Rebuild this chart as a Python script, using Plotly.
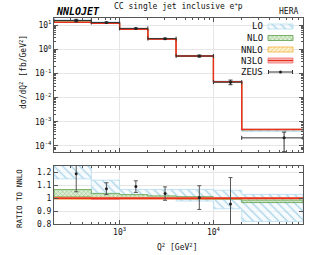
import math
import plotly.graph_objects as go

# ---------------- data ----------------
q2_edges = [200, 500, 1000, 2000, 4000, 10000, 20000, 90000]
zeus_q2 = [345, 724, 1490, 3050, 7070, 15200, 56600]

# NNLO cross section dsigma/dQ2 [fb/GeV2]
nnlo_xs = [12.9, 11.8, 6.65, 2.64, 0.52, 0.0455, 4.8e-4]

# ratios to NNLO (scale bands)
lo_low = [1.15, 1.04, 1.02, 1.005, 0.978, 0.918, 0.82]
lo_high = [1.27, 1.14, 1.067, 1.066, 1.068, 1.062, 1.03]
nlo_low = [1.01, 1.005, 1.005, 1.0, 0.995, 0.99, 0.966]
nlo_high = [1.067, 1.036, 1.028, 1.018, 1.012, 1.004, 0.986]
nnlo_low = [0.993, 0.99, 0.993, 0.995, 0.995, 0.995, 0.996]
nnlo_high = [1.008, 1.006, 1.005, 1.004, 1.004, 1.003, 1.003]
n3lo_central = [1.0, 0.997, 0.998, 0.999, 1.0, 1.0, 1.0]
n3lo_low = [0.996, 0.99, 0.993, 0.995, 0.996, 0.996, 0.996]
n3lo_high = [1.004, 1.002, 1.002, 1.003, 1.003, 1.003, 1.004]

zeus_ratio = [1.19, 1.074, 1.09, 1.036, 1.005, 0.955, 0.45]
zeus_ratio_err = [0.14, 0.046, 0.045, 0.052, 0.092, 0.205, 0.33]

y_tick_vals = [1e-4, 1e-3, 1e-2, 1e-1, 1e0, 1e1]
y_tick_text = ["10<sup>-4</sup>", "10<sup>-3</sup>", "10<sup>-2</sup>",
               "10<sup>-1</sup>", "10<sup>0</sup>", "10<sup>1</sup>"]
x_tick_vals = [1000, 10000]
x_tick_text = ["10<sup>3</sup>", "10<sup>4</sup>"]
r_tick_vals = [0.8, 0.9, 1.0, 1.1, 1.2]
r_tick_text = ["0.8", "0.9", "1", "1.1", "1.2"]

legend_labels = ["LO", "NLO", "NNLO", "N3LO", "ZEUS"]

# ---------------- styles ----------------
FONT = "DejaVu Sans Mono"
styles = {
    "LO": dict(line="#b4dcee", fg="#a8d4e8", bg="rgba(242,249,253,0.6)", shape="\\", size=6),
    "NLO": dict(line="#5c9e48", fg="#6aa856", bg="rgba(214,235,204,0.8)", shape="x", size=3),
    "NNLO": dict(line="#f0b13a", fg="#f2bb4a", bg="rgba(253,240,200,0.8)", shape="/", size=3),
    "N3LO": dict(line="#f07070", fg="#f08080", bg="rgba(250,195,195,0.9)", shape="-", size=2),
}


def step_band(edges, low, high):
    xs, ys = [], []
    for i in range(len(low)):
        xs += [edges[i], edges[i + 1]]
        ys += [high[i], high[i]]
    for i in reversed(range(len(low))):
        xs += [edges[i + 1], edges[i]]
        ys += [low[i], low[i]]
    xs.append(xs[0])
    ys.append(ys[0])
    return xs, ys


def step_line(edges, vals):
    xs, ys = [], []
    for i in range(len(vals)):
        xs += [edges[i], edges[i + 1]]
        ys += [vals[i], vals[i]]
    return xs, ys


def pattern(st):
    return dict(shape=st["shape"], fgcolor=st["fg"], bgcolor=st["bg"],
                size=st["size"], solidity=0.22, fillmode="replace")


fig = go.Figure()

bands = [
    ("LO", lo_low, lo_high),
    ("NLO", nlo_low, nlo_high),
    ("NNLO", nnlo_low, nnlo_high),
    ("N3LO", n3lo_low, n3lo_high),
]

for name, lo, hi in bands:
    st = styles[name]
    xs, ys = step_band(q2_edges, [l * v for l, v in zip(lo, nnlo_xs)],
                       [h * v for h, v in zip(hi, nnlo_xs)])
    fig.add_trace(go.Scatter(x=xs, y=ys, mode="lines", fill="toself",
                             line=dict(color=st["line"], width=0.8), fillpattern=pattern(st),
                             xaxis="x", yaxis="y", showlegend=False, hoverinfo="skip"))
    xs, ys = step_band(q2_edges, lo, hi)
    fig.add_trace(go.Scatter(x=xs, y=ys, mode="lines", fill="toself",
                             line=dict(color=st["line"], width=0.8), fillpattern=pattern(st),
                             xaxis="x2", yaxis="y2", showlegend=False, hoverinfo="skip"))

# N3LO central lines
xs, ys = step_line(q2_edges, [c * v for c, v in zip(n3lo_central, nnlo_xs)])
fig.add_trace(go.Scatter(x=xs, y=ys, mode="lines", line=dict(color="#e8321e", width=1.4),
                         xaxis="x", yaxis="y", showlegend=False, hoverinfo="skip"))
xs, ys = step_line(q2_edges, n3lo_central)
fig.add_trace(go.Scatter(x=xs, y=ys, mode="lines", line=dict(color="#e8321e", width=1.4),
                         xaxis="x2", yaxis="y2", showlegend=False, hoverinfo="skip"))

# ZEUS data
zeus_val = [r * v for r, v in zip(zeus_ratio, nnlo_xs)]
zeus_err = [e * v for e, v in zip(zeus_ratio_err, nnlo_xs)]
zeus_err_minus = [min(e, 0.999 * y) for e, y in zip(zeus_err, zeus_val)]
xm = [x - q2_edges[i] for i, x in enumerate(zeus_q2)]
xp = [q2_edges[i + 1] - x for i, x in enumerate(zeus_q2)]
fig.add_trace(go.Scatter(x=zeus_q2, y=zeus_val, mode="markers",
                         marker=dict(color="#222", size=3),
                         error_y=dict(type="data", array=zeus_err, arrayminus=zeus_err_minus,
                                      color="#333", thickness=1, width=2),
                         error_x=dict(type="data", array=xp, arrayminus=xm,
                                      color="#333", thickness=1, width=2),
                         xaxis="x", yaxis="y", showlegend=False, hoverinfo="skip"))
fig.add_trace(go.Scatter(x=zeus_q2, y=zeus_ratio, mode="markers",
                         marker=dict(color="#222", size=3),
                         error_y=dict(type="data", array=zeus_ratio_err, color="#555",
                                      thickness=1, width=2),
                         xaxis="x2", yaxis="y2", showlegend=False, hoverinfo="skip"))

# ---------------- legend (manual, symbol right of text) ----------------
L, R, T, B = 54, 303, 18, 224
leg_y = [26.5, 38, 49.5, 60.5, 72]
for name, yy in zip(legend_labels[:4], leg_y[:4]):
    st = styles[name]
    xs = [268, 293, 293, 268, 268]
    ys = [yy - 2.5, yy - 2.5, yy + 2.5, yy + 2.5, yy - 2.5]
    fig.add_trace(go.Scatter(x=xs, y=ys, mode="lines", fill="toself",
                             line=dict(color=st["line"], width=0.8), fillpattern=pattern(st),
                             xaxis="x3", yaxis="y3", showlegend=False, hoverinfo="skip"))
    if name == "N3LO":
        fig.add_trace(go.Scatter(x=[268, 293], y=[yy, yy], mode="lines",
                                 line=dict(color="#e8321e", width=1.2),
                                 xaxis="x3", yaxis="y3", showlegend=False, hoverinfo="skip"))
fig.add_trace(go.Scatter(x=[280.5], y=[leg_y[4]], mode="markers", marker=dict(color="#222", size=3),
                         error_x=dict(type="constant", value=12, color="#333", thickness=1, width=2),
                         xaxis="x3", yaxis="y3", showlegend=False, hoverinfo="skip"))


def px(x):
    return (x - L) / (R - L)


def py(y):
    return (B - y) / (B - T)


annotations = []
for name, yy in zip(legend_labels, leg_y):
    annotations.append(dict(text=name, x=px(265), y=py(yy), xref="paper", yref="paper",
                            xanchor="right", yanchor="middle", showarrow=False,
                            font=dict(family=FONT, size=9, color="#111")))

annotations += [
    dict(text="<b><i>NNLOJET</i></b>", x=px(54), y=py(11), xref="paper", yref="paper",
         xanchor="left", yanchor="middle", showarrow=False,
         font=dict(family=FONT, size=10, color="#000")),
    dict(text="CC single jet inclusive e<sup>+</sup>p", x=px(178), y=py(6), xref="paper", yref="paper",
         xanchor="center", yanchor="middle", showarrow=False,
         font=dict(family=FONT, size=8, color="#111")),
    dict(text="HERA", x=px(300), y=py(11), xref="paper", yref="paper",
         xanchor="right", yanchor="middle", showarrow=False,
         font=dict(family=FONT, size=8, color="#111")),
    dict(text="dσ/dQ<sup>2</sup> [fb/GeV<sup>2</sup>]", x=px(23), y=py(72), xref="paper", yref="paper",
         xanchor="center", yanchor="middle", showarrow=False, textangle=-90,
         font=dict(family=FONT, size=8, color="#111")),
    dict(text="RATIO TO NNLO", x=px(19), y=py(199), xref="paper", yref="paper",
         xanchor="center", yanchor="middle", showarrow=False, textangle=-90,
         font=dict(family=FONT, size=7.5, color="#111")),
    dict(text="Q<sup>2</sup> [GeV<sup>2</sup>]", x=px(177), y=py(247), xref="paper", yref="paper",
         xanchor="center", yanchor="middle", showarrow=False,
         font=dict(family=FONT, size=8, color="#111")),
]

minor_x = [m * 10 ** d for d in (2, 3, 4) for m in range(2, 10) if 200 <= m * 10 ** d <= 90000]
minor_y = [m * 10.0 ** d for d in range(-5, 2) for m in range(2, 10)]

axis_common = dict(showline=True, linecolor="#555", linewidth=1, mirror="ticks",
                   ticks="inside", tickcolor="#555", ticklen=4, zeroline=False,
                   gridcolor="#e6e6e6", gridwidth=1, automargin=False,
                   tickfont=dict(family=FONT, size=8, color="#111"))
xrange = [math.log10(q2_edges[0]), math.log10(q2_edges[-1])]

fig.update_layout(
    width=312, height=255,
    margin=dict(l=L, r=312 - R, t=T, b=255 - B),
    paper_bgcolor="white", plot_bgcolor="rgba(0,0,0,0)",
    showlegend=False,
    xaxis=dict(type="log", range=xrange, domain=[0, 1], anchor="y",
               tickvals=x_tick_vals, ticktext=x_tick_text, showticklabels=False,
               minor=dict(tickvals=minor_x, ticks="inside", ticklen=2, tickcolor="#555", showgrid=False),
               **axis_common),
    yaxis=dict(type="log", range=[-4.25, 1.29], domain=[(B - 152) / (B - T), 1], anchor="x",
               tickvals=y_tick_vals, ticktext=y_tick_text,
               minor=dict(tickvals=minor_y, ticks="inside", ticklen=2, tickcolor="#555", showgrid=False),
               **axis_common),
    xaxis2=dict(type="log", range=xrange, domain=[0, 1], anchor="y2", matches="x",
                tickvals=x_tick_vals, ticktext=x_tick_text,
                minor=dict(tickvals=minor_x, ticks="inside", ticklen=2, tickcolor="#555", showgrid=False),
                **axis_common),
    yaxis2=dict(range=[0.8, 1.25], domain=[0, (B - 166) / (B - T)], anchor="x2",
                tickvals=r_tick_vals, ticktext=r_tick_text,
                **axis_common),
    xaxis3=dict(range=[L, R], domain=[0, 1], anchor="y3", visible=False, fixedrange=True),
    yaxis3=dict(range=[B, T], domain=[0, 1], anchor="x3", visible=False, fixedrange=True),
    annotations=annotations,
)

fig.write_html("out.html", config={"displayModeBar": False, "staticPlot": True},
               post_script="document.body.style.margin='0';document.body.style.overflow='hidden';")
